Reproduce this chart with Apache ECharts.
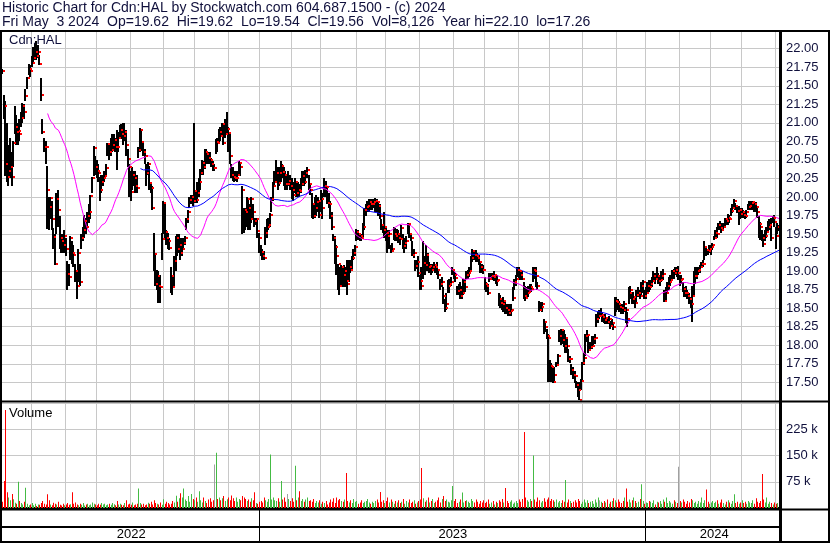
<!DOCTYPE html>
<html><head><meta charset="utf-8">
<script src="https://cdn.jsdelivr.net/npm/echarts@6/dist/echarts.min.js"></script>
<style>html,body{margin:0;padding:0;background:#fff}#c{width:830px;height:543px}</style>
</head><body><div id="c"></div>
<script>
// ---- data ----
const lastDay = '2024-05-03';
const holidays = ['2022-05-23','2022-07-01','2022-08-01','2022-09-05','2022-10-10','2022-12-26','2022-12-27',
  '2023-01-02','2023-02-20','2023-04-07','2023-05-22','2023-07-03','2023-08-07','2023-09-04','2023-10-09','2023-12-25','2023-12-26',
  '2024-01-01','2024-02-19','2024-03-29'];
const closes = [
21.70,21.23,20.45,20.27,20.35,20.40,20.27,20.73,20.95,20.87,
20.89,20.85,21.06,21.23,21.15,21.36,21.60,21.72,21.70,21.81,
21.88,21.95,21.90,21.95,21.80,21.38,20.88,20.68,20.67,20.10,
19.86,19.98,19.70,19.46,19.09,19.97,19.82,19.45,19.40,19.35,
19.48,19.30,18.96,18.92,19.45,19.25,19.22,19.00,18.80,19.25,
18.85,19.45,19.55,19.67,19.60,19.75,19.80,20.01,20.25,20.66,
20.40,20.35,20.33,20.09,20.20,20.25,20.28,20.39,20.71,20.60,
20.64,20.70,20.77,20.68,20.67,20.80,20.91,20.85,20.82,20.88,
20.70,20.51,20.40,20.07,20.29,20.25,20.15,20.12,20.64,20.91,
20.74,20.60,20.55,20.33,20.45,20.19,20.12,19.85,19.23,18.82,
18.93,18.80,18.78,19.43,19.92,19.53,19.45,19.40,19.31,18.93,
18.78,19.14,19.44,19.30,19.35,19.24,19.30,19.38,19.45,19.70,
19.80,19.96,20.00,19.95,20.08,19.96,20.05,20.20,20.33,20.46,
20.40,20.60,20.58,20.53,20.50,20.45,20.39,20.39,20.74,20.73,
20.87,20.82,20.98,20.73,20.85,20.92,20.86,20.55,20.30,20.27,
20.25,20.26,20.30,20.46,20.40,20.09,19.83,19.80,19.97,19.85,
19.70,19.97,19.80,19.68,19.70,19.54,19.45,19.26,19.20,19.18,
19.52,19.60,19.62,19.76,19.97,20.15,20.20,20.33,20.19,20.32,
20.42,20.34,20.30,20.17,20.17,20.22,20.15,20.10,20.02,20.20,
20.05,20.10,20.08,20.17,20.28,20.20,20.33,20.36,20.17,20.10,
19.90,19.74,19.85,19.93,19.95,19.76,19.97,19.85,20.15,20.13,
19.92,19.90,19.74,19.60,19.45,19.32,19.20,19.09,18.80,19.05,
18.95,19.00,18.87,18.83,19.05,19.02,19.17,19.25,19.32,19.53,
19.50,19.48,19.45,19.60,19.82,19.86,19.88,19.93,19.90,19.91,
19.93,19.95,19.93,19.88,19.74,19.62,19.56,19.60,19.52,19.47,
19.50,19.27,19.30,19.50,19.48,19.50,19.45,19.43,19.58,19.34,
19.38,19.40,19.63,19.50,19.45,19.22,19.25,19.07,19.12,18.98,
18.87,18.80,19.11,19.08,19.22,19.06,19.07,19.02,19.05,19.08,
19.05,19.02,18.95,18.82,18.85,18.66,18.50,18.55,18.80,18.82,
18.85,19.02,18.95,18.91,18.73,18.75,18.66,18.70,18.85,18.78,
18.95,18.98,19.00,19.18,19.27,19.22,19.20,19.18,19.12,19.05,
19.02,19.01,18.82,18.80,18.70,18.90,18.93,18.92,18.95,18.86,
18.88,18.62,18.57,18.55,18.60,18.50,18.48,18.44,18.46,18.48,
18.64,18.85,18.90,19.02,19.00,18.95,18.90,18.66,18.64,18.70,
18.72,18.78,18.76,19.02,19.00,18.93,18.80,18.48,18.52,18.55,
18.32,18.25,18.12,18.10,17.72,17.70,17.51,17.60,17.74,17.85,
18.12,18.20,18.07,17.99,18.10,17.99,17.81,17.82,17.67,17.60,
17.58,17.47,17.40,17.26,17.52,17.76,17.83,18.12,18.14,17.94,
17.98,17.99,18.08,18.10,18.35,18.40,18.40,18.41,18.38,18.34,
18.37,18.32,18.35,18.26,18.30,18.24,18.60,18.58,18.56,18.52,
18.50,18.48,18.55,18.48,18.35,18.71,18.75,18.62,18.65,18.57,
18.68,18.71,18.66,18.80,18.85,18.66,18.70,18.80,18.78,18.82,
18.87,18.93,18.90,18.93,18.86,18.88,18.93,18.96,18.60,18.70,
18.80,18.85,18.88,19.00,18.98,19.02,18.97,18.97,18.88,18.90,
18.76,18.71,18.70,18.66,18.62,18.55,18.66,18.93,18.94,19.00,
19.02,19.05,19.09,19.10,19.33,19.28,19.27,19.30,19.32,19.35,
19.45,19.52,19.50,19.62,19.58,19.56,19.60,19.70,19.68,19.72,
19.70,19.81,19.85,19.94,19.88,19.81,19.83,19.77,19.80,19.76,
19.74,19.80,19.86,19.88,19.92,19.93,19.90,19.86,19.80,19.64,
19.60,19.45,19.36,19.48,19.53,19.60,19.62,19.45,19.71,19.66,
19.48,19.60,19.56];
const highs = [
21.72,21.37,21.29,21.00,20.70,20.80,20.60,20.75,21.23,21.10,
21.00,21.05,21.15,21.27,21.25,21.45,21.62,21.80,21.78,21.90,
22.02,22.08,22.10,22.05,21.92,21.60,21.05,20.80,20.75,20.42,
20.00,20.00,19.95,19.58,19.50,20.05,20.10,19.75,19.50,19.50,
19.55,19.45,19.13,19.10,19.47,19.40,19.35,19.10,19.00,19.30,
19.10,19.50,19.60,19.76,19.72,19.80,19.90,20.02,20.27,20.69,
20.55,20.50,20.45,20.27,20.30,20.30,20.35,20.45,20.73,20.70,
20.80,20.85,20.85,20.80,20.90,20.88,20.97,20.98,21.00,21.00,
20.90,20.65,20.45,20.35,20.40,20.35,20.35,20.30,20.68,20.93,
20.90,20.75,20.65,20.45,20.47,20.42,20.20,20.15,19.52,19.25,
19.02,19.00,18.95,19.52,19.95,19.90,19.55,19.52,19.45,19.05,
18.92,19.20,19.47,19.50,19.50,19.45,19.45,19.45,19.48,19.72,
19.82,20.00,20.02,20.02,21.00,20.10,20.20,20.25,20.38,20.50,
20.48,20.65,20.65,20.60,20.60,20.52,20.48,20.45,20.78,20.80,
20.92,20.95,21.00,21.00,21.05,21.14,20.95,20.85,20.45,20.40,
20.35,20.35,20.35,20.48,20.45,20.15,19.85,19.85,20.00,19.98,
19.90,20.00,19.90,19.72,19.72,19.70,19.52,19.35,19.30,19.27,
19.60,19.70,19.72,19.78,20.00,20.20,20.35,20.50,20.40,20.40,
20.48,20.45,20.40,20.35,20.30,20.35,20.30,20.25,20.20,20.25,
20.20,20.20,20.18,20.25,20.35,20.35,20.37,20.40,20.30,20.18,
20.05,19.90,20.00,20.02,20.00,19.95,20.10,20.05,20.25,20.22,
20.15,20.05,19.95,19.80,19.50,19.48,19.35,19.10,19.05,19.08,
19.05,19.08,19.05,19.15,19.15,19.15,19.20,19.30,19.35,19.57,
19.55,19.52,19.50,19.65,19.85,19.90,19.95,19.97,19.97,19.97,
19.97,19.98,19.97,19.95,19.90,19.70,19.62,19.80,19.60,19.55,
19.55,19.35,19.38,19.60,19.58,19.57,19.55,19.50,19.62,19.50,
19.45,19.48,19.65,19.65,19.50,19.40,19.30,19.15,19.15,19.20,
18.95,19.05,19.40,19.20,19.35,19.25,19.12,19.10,19.10,19.12,
19.10,19.12,19.02,18.90,18.92,18.78,18.62,18.70,18.88,18.90,
18.92,19.05,19.00,18.98,18.80,18.82,18.85,18.80,18.90,18.90,
19.00,19.02,19.05,19.20,19.30,19.27,19.28,19.25,19.22,19.12,
19.10,19.08,18.92,18.85,18.82,18.98,18.98,18.98,19.00,18.95,
18.95,18.70,18.68,18.62,18.65,18.60,18.55,18.55,18.55,18.55,
18.78,18.90,18.95,19.05,19.05,19.02,19.00,18.85,18.80,18.78,
18.80,18.82,18.82,19.05,19.05,19.05,18.85,18.60,18.58,18.58,
18.35,18.30,18.22,18.15,17.80,17.76,17.72,17.70,17.78,17.88,
18.20,18.22,18.20,18.20,18.15,18.10,17.95,17.85,17.75,17.70,
17.65,17.52,17.50,17.50,17.55,17.78,17.90,18.15,18.20,18.12,
18.05,18.12,18.12,18.15,18.42,18.45,18.48,18.50,18.45,18.42,
18.42,18.38,18.40,18.33,18.35,18.30,18.65,18.65,18.62,18.60,
18.55,18.55,18.60,18.52,18.45,18.78,18.80,18.70,18.72,18.65,
18.75,18.78,18.75,18.85,18.88,18.75,18.78,18.85,18.88,18.88,
18.92,19.00,18.98,19.05,18.98,18.95,19.00,19.03,18.75,18.78,
18.85,18.92,18.95,19.02,19.03,19.05,19.05,19.07,18.95,18.95,
18.85,18.78,18.80,18.75,18.70,18.65,18.80,19.00,19.05,19.05,
19.05,19.08,19.12,19.15,19.40,19.33,19.30,19.35,19.35,19.38,
19.48,19.55,19.60,19.65,19.67,19.65,19.65,19.72,19.72,19.77,
19.76,19.85,19.90,19.97,19.92,19.88,19.88,19.85,19.85,19.82,
19.80,19.83,19.90,19.95,19.95,19.95,19.95,19.93,19.85,19.75,
19.66,19.55,19.50,19.55,19.60,19.67,19.70,19.72,19.75,19.76,
19.60,19.65,19.62];
const lows = [
21.66,21.05,20.28,20.20,20.15,20.25,20.15,20.40,20.85,20.70,
20.70,20.75,20.95,21.00,21.05,21.30,21.45,21.65,21.62,21.75,
21.80,21.85,21.85,21.88,21.78,21.30,20.85,20.60,20.45,19.57,
19.55,19.70,19.55,19.30,19.08,19.50,19.60,19.30,19.25,19.25,
19.25,19.20,18.75,18.80,19.15,19.10,19.05,18.85,18.62,18.85,
18.80,19.30,19.40,19.45,19.50,19.60,19.65,19.70,20.05,20.28,
20.30,20.26,20.20,19.95,20.05,20.15,20.20,20.30,20.55,20.50,
20.55,20.60,20.62,20.60,20.37,20.60,20.80,20.78,20.70,20.75,
20.55,20.40,20.00,19.95,20.10,20.15,20.05,20.05,20.52,20.60,
20.62,20.55,20.45,20.15,20.30,20.10,20.05,19.83,19.00,18.80,
18.75,18.57,18.57,19.15,19.50,19.45,19.35,19.30,19.28,18.70,
18.68,18.80,19.00,19.20,19.25,19.15,19.20,19.30,19.35,19.55,
19.65,19.85,19.90,19.88,19.92,19.92,19.92,20.00,20.10,20.30,
20.30,20.38,20.45,20.45,20.45,20.40,20.35,20.35,20.58,20.60,
20.73,20.75,20.82,20.70,20.80,20.85,20.60,20.45,20.25,20.22,
20.20,20.22,20.20,20.30,20.28,19.50,19.52,19.55,19.60,19.55,
19.55,19.65,19.70,19.60,19.62,19.45,19.25,19.20,19.15,19.15,
19.35,19.45,19.55,19.60,19.80,19.95,20.15,20.20,20.10,20.15,
20.20,20.25,20.15,20.10,20.10,20.15,20.10,19.97,19.95,20.05,
20.00,20.00,20.00,20.05,20.15,20.15,20.18,20.25,20.10,20.02,
19.72,19.70,19.72,19.75,19.80,19.72,19.80,19.70,20.00,20.00,
19.90,19.85,19.70,19.55,19.40,19.10,18.95,18.75,18.68,18.80,
18.78,18.78,18.78,18.68,18.85,18.98,19.02,19.15,19.20,19.40,
19.42,19.40,19.40,19.45,19.55,19.75,19.80,19.80,19.82,19.82,
19.85,19.80,19.80,19.75,19.70,19.55,19.52,19.45,19.40,19.25,
19.30,19.25,19.26,19.42,19.40,19.40,19.38,19.35,19.45,19.30,
19.25,19.30,19.50,19.45,19.40,19.20,19.18,19.00,19.03,18.92,
18.75,18.75,18.90,18.95,19.00,19.00,18.98,18.95,18.98,19.00,
18.98,18.95,18.90,18.75,18.78,18.55,18.45,18.48,18.70,18.70,
18.80,18.95,18.90,18.85,18.68,18.68,18.62,18.62,18.68,18.72,
18.90,18.90,18.92,19.00,19.12,19.15,19.12,19.12,19.08,18.98,
18.97,18.96,18.75,18.72,18.68,18.85,18.88,18.88,18.86,18.82,
18.80,18.53,18.50,18.48,18.45,18.42,18.42,18.40,18.40,18.40,
18.60,18.75,18.80,18.92,18.90,18.88,18.88,18.62,18.60,18.62,
18.65,18.70,18.72,18.85,18.90,18.78,18.75,18.45,18.46,18.45,
18.15,18.18,18.08,17.50,17.50,17.50,17.49,17.49,17.70,17.72,
18.05,18.00,18.02,17.97,17.90,17.90,17.78,17.76,17.60,17.55,
17.49,17.42,17.30,17.26,17.40,17.50,17.74,17.85,18.05,17.90,
17.92,17.95,18.00,18.02,18.25,18.30,18.35,18.38,18.32,18.30,
18.28,18.28,18.28,18.22,18.25,18.20,18.40,18.45,18.48,18.45,
18.42,18.42,18.45,18.30,18.25,18.55,18.62,18.55,18.55,18.50,
18.55,18.65,18.62,18.65,18.70,18.62,18.62,18.70,18.72,18.75,
18.78,18.85,18.82,18.88,18.82,18.80,18.85,18.88,18.58,18.60,
18.72,18.75,18.80,18.90,18.90,18.95,18.92,18.88,18.80,18.82,
18.72,18.65,18.65,18.62,18.55,18.50,18.32,18.66,18.82,18.90,
18.95,18.98,19.04,19.05,19.15,19.20,19.22,19.25,19.22,19.28,
19.42,19.45,19.45,19.55,19.55,19.52,19.55,19.60,19.62,19.62,
19.65,19.74,19.78,19.85,19.82,19.78,19.62,19.70,19.72,19.72,
19.70,19.72,19.82,19.83,19.82,19.82,19.80,19.80,19.72,19.45,
19.42,19.40,19.33,19.40,19.45,19.53,19.55,19.40,19.65,19.60,
19.30,19.50,19.54];
const volumesK = [
18,77,280,45,30,22,40,25,15,12,
75,20,14,10,18,58,12,8,10,14,
8,12,6,10,9,14,20,12,10,39,
22,10,8,15,12,10,18,9,7,12,
8,10,14,9,11,45,12,16,10,8,
12,9,14,7,10,12,8,10,16,12,
10,8,12,9,14,10,12,8,10,12,
9,14,11,8,20,10,12,9,8,14,
22,10,12,9,16,8,10,12,56,14,
10,12,8,10,15,12,18,10,22,14,
12,10,16,9,25,12,18,14,10,12,
20,16,35,18,28,42,30,56,24,20,
34,18,40,26,22,30,18,48,22,16,
30,20,14,24,28,18,22,124,158,26,
30,22,28,34,20,25,30,22,36,28,
20,30,18,26,22,34,30,26,20,24,
18,28,22,45,14,12,18,20,16,30,
22,18,26,153,24,30,22,20,28,18,
77,24,30,18,40,26,20,28,18,121,
22,30,48,20,26,18,24,30,20,22,
18,26,14,20,16,22,12,18,14,20,
10,16,24,18,28,14,30,22,26,20,
18,24,100,20,16,22,14,26,18,20,
12,16,22,14,18,20,26,16,12,18,
14,20,24,16,46,18,22,14,20,30,
16,24,18,12,20,16,22,14,18,26,
12,20,16,24,14,18,22,12,16,20,
24,114,28,18,22,30,16,20,26,14,
18,22,30,16,26,34,20,24,18,16,
22,63,20,26,14,18,24,44,16,20,
22,18,14,26,20,16,24,18,12,20,
16,22,14,18,24,12,16,20,10,18,
14,22,18,26,16,57,20,14,18,22,
12,16,20,14,24,18,26,217,30,22,
18,26,20,150,24,18,30,22,16,20,
28,18,24,30,20,26,22,18,24,16,
20,14,22,18,80,16,24,20,14,18,
22,16,26,20,12,18,24,16,22,14,
18,20,12,24,16,30,22,18,14,20,
16,24,12,18,20,28,22,16,24,18,
14,20,30,56,18,24,16,22,30,20,
14,18,26,68,20,12,16,14,20,18,
14,22,10,18,16,20,12,24,18,30,
14,20,16,12,22,18,14,118,20,16,
24,18,12,20,16,26,22,14,18,12,
20,16,30,14,22,53,18,12,16,20,
14,18,22,12,16,24,14,10,18,22,
16,12,20,39,14,18,12,16,22,14,
18,12,20,16,14,22,12,28,18,14,
20,97,24,16,30,12,18,14,10,16,
12,14,8.126];
const maPeriods = [30, 90];           // magenta, blue
const priceTicks = {min: 17.25, max: 22.25, step: 0.25};
const volTicks = {min: 0, max: 300, step: 75};
const headerLines = [
  'Historic Chart for Cdn:HAL by Stockwatch.com 604.687.1500 - (c) 2024',
  'Fri May  3 2024  Op=19.62  Hi=19.62  Lo=19.54  Cl=19.56  Vol=8,126  Year hi=22.10  lo=17.26'
];

// ---- derived ----
const N = closes.length;
const dates = [];
(function(){
  const d = new Date(lastDay + 'T00:00:00Z');
  while (dates.length < N) {
    const s = d.toISOString().slice(0,10);
    const w = d.getUTCDay();
    if (w !== 0 && w !== 6 && holidays.indexOf(s) < 0) dates.unshift(s);
    d.setUTCDate(d.getUTCDate() - 1);
  }
})();
const monthStart = dates.map((s,i)=> i>0 && s.slice(0,7)!==dates[i-1].slice(0,7));
const yearStart = dates.map((s,i)=> i>0 && s.slice(0,4)!==dates[i-1].slice(0,4));
const yearMid = {};
(function(){
  const spans = {};
  dates.forEach((s,i)=>{const y=s.slice(0,4); if(!spans[y]) spans[y]=[i,i]; spans[y][1]=i;});
  Object.keys(spans).forEach(y=>{yearMid[Math.round((spans[y][0]+spans[y][1]+1)/2)] = y;});
})();
function sma(arr, n){
  return arr.map((v,i)=>{ if(i<n-1) return null; let s=0; for(let k=i-n+1;k<=i;k++) s+=arr[k]; return +(s/n).toFixed(4); });
}
const ohlcData = closes.map((c,i)=>[i, highs[i], lows[i], c]);
const volData = volumesK.map((v,i)=>{
  let dir = 0;
  if (i>0) dir = closes[i]>closes[i-1] ? 1 : (closes[i]<closes[i-1] ? 0 : 2);
  return [i, v, dir];
});
const volColors = ['#ff0000', '#44bb44', '#a0a0a0'];

const txtColor = '#10103c';
const font = 'Liberation Sans, Arial, sans-serif';
const gridColor = '#c8c8c8';

const chart = echarts.init(document.getElementById('c'), null, {renderer:'canvas', width:830, height:543});
const gTop = 48.7 - (22.25-22.00)/0.25*18.533;
const gBottom = 382.3 + (17.50-17.25)/0.25*18.533;

chart.setOption({
  animation: false,
  backgroundColor: '#ffffff',
  grid: [
    {left: 2, right: 50, top: gTop, height: gBottom - gTop},
    {left: 2, right: 50, top: 403, height: 105}
  ],
  xAxis: [
    {gridIndex:0, type:'category', data: dates, boundaryGap:true,
     axisLine:{show:false}, axisTick:{show:false}, axisLabel:{show:false},
     splitLine:{show:true, interval:(i)=>monthStart[i], lineStyle:{color:gridColor, width:1}}},
    {gridIndex:1, type:'category', data: dates, boundaryGap:true,
     axisLine:{show:true, lineStyle:{color:'#000', width:2}},
     axisTick:{show:true, interval:(i)=>yearStart[i], length:33, lineStyle:{color:'#000', width:1}},
     axisLabel:{show:true, interval:(i)=>yearMid[i]!==undefined, formatter:(v)=>v.slice(0,4),
       margin:20, fontSize:13, fontFamily:font, color:'#000'},
     splitLine:{show:true, interval:(i)=>monthStart[i], lineStyle:{color:gridColor, width:1}}}
  ],
  yAxis: [
    {gridIndex:0, type:'value', position:'right', min:priceTicks.min, max:priceTicks.max, interval:priceTicks.step,
     axisLine:{show:false}, axisTick:{show:false},
     axisLabel:{margin:6, fontSize:13, fontFamily:font, color:txtColor,
       formatter:(v)=> (v>=17.49 && v<=22.01) ? v.toFixed(2) : ''},
     splitLine:{show:true, lineStyle:{color:gridColor, width:1}}},
    {gridIndex:1, type:'value', position:'right', min:volTicks.min, max:volTicks.max, interval:volTicks.step,
     axisLine:{show:false}, axisTick:{show:false},
     axisLabel:{margin:6, fontSize:13, fontFamily:font, color:txtColor,
       formatter:(v)=> (v>0 && v<300) ? (v+' k') : ''},
     splitLine:{show:true, lineStyle:{color:gridColor, width:1}}}
  ],
  series: [
    {type:'custom', name:'Cdn:HAL', xAxisIndex:0, yAxisIndex:0, data: ohlcData,
     encode:{x:0, y:[1,2,3]}, clip:true, z:2,
     renderItem:function(params, api){
       const i = api.value(0);
       const pH = api.coord([i, api.value(1)]);
       const pL = api.coord([i, api.value(2)]);
       const x = Math.floor(pH[0]) - 1;
       const yH = Math.round(pH[1]), yL = Math.round(pL[1]);
       return {type:'rect', shape:{x:x, y:yH, width:2, height:Math.max(1, yL-yH)}, style:{fill:'#000'}};
     }},
    {type:'custom', name:'Close', xAxisIndex:0, yAxisIndex:0, data: ohlcData,
     encode:{x:0, y:3}, clip:true, z:4,
     renderItem:function(params, api){
       const i = api.value(0);
       const pC = api.coord([i, api.value(3)]);
       const x = Math.floor(pC[0]);
       return {type:'rect', shape:{x:x+1, y:Math.round(pC[1])-1, width:2, height:2}, style:{fill:'#ff0000'}};
     }},
    {type:'line', name:'MA'+maPeriods[0], xAxisIndex:0, yAxisIndex:0, data: sma(closes, maPeriods[0]),
     showSymbol:false, connectNulls:false, lineStyle:{color:'#ff00ff', width:1}, itemStyle:{color:'#ff00ff'}, z:3},
    {type:'line', name:'MA'+maPeriods[1], xAxisIndex:0, yAxisIndex:0, data: sma(closes, maPeriods[1]),
     showSymbol:false, connectNulls:false, lineStyle:{color:'#0000ff', width:1}, itemStyle:{color:'#0000ff'}, z:3},
    {type:'custom', name:'Volume', xAxisIndex:1, yAxisIndex:1, data: volData,
     encode:{x:0, y:1}, clip:true,
     renderItem:function(params, api){
       const i = api.value(0);
       const top = api.coord([i, api.value(1)]);
       const base = api.coord([i, 0]);
       const x = Math.floor(top[0]);
       return {type:'rect', shape:{x:x, y:top[1], width:1, height:base[1]-top[1]},
               style:{fill: volColors[api.value(2)]}};
     }}
  ],
  graphic: [
    {type:'text', left:2, top:1, z:100, style:{text: headerLines[0], font:'14px '+font, fill:txtColor}},
    {type:'text', left:2, top:15, z:100, style:{text: headerLines[1], font:'14px '+font, fill:txtColor}},
    {type:'text', left:9, top:34, z:100, style:{text:'Cdn:HAL', font:'13px '+font, fill:txtColor}},
    {type:'text', left:9, top:407, z:100, style:{text:'Volume', font:'13px '+font, fill:'#000'}},
    // frame lines
    {type:'rect', z:100, shape:{x:0, y:30, width:830, height:2}, style:{fill:'#000'}},
    {type:'rect', z:100, shape:{x:0, y:30, width:2, height:513}, style:{fill:'#000'}},
    {type:'rect', z:100, shape:{x:779, y:30, width:3, height:513}, style:{fill:'#000'}},
    {type:'rect', z:100, shape:{x:828, y:30, width:2, height:513}, style:{fill:'#000'}},
    {type:'rect', z:100, shape:{x:0, y:400.5, width:830, height:2}, style:{fill:'#000'}},
    {type:'rect', z:100, shape:{x:0, y:508.5, width:830, height:2}, style:{fill:'#000'}},
    {type:'rect', z:100, shape:{x:0, y:526, width:781, height:2}, style:{fill:'#000'}},
    {type:'rect', z:100, shape:{x:0, y:541, width:830, height:2}, style:{fill:'#000'}}
  ]
});
</script></body></html>
